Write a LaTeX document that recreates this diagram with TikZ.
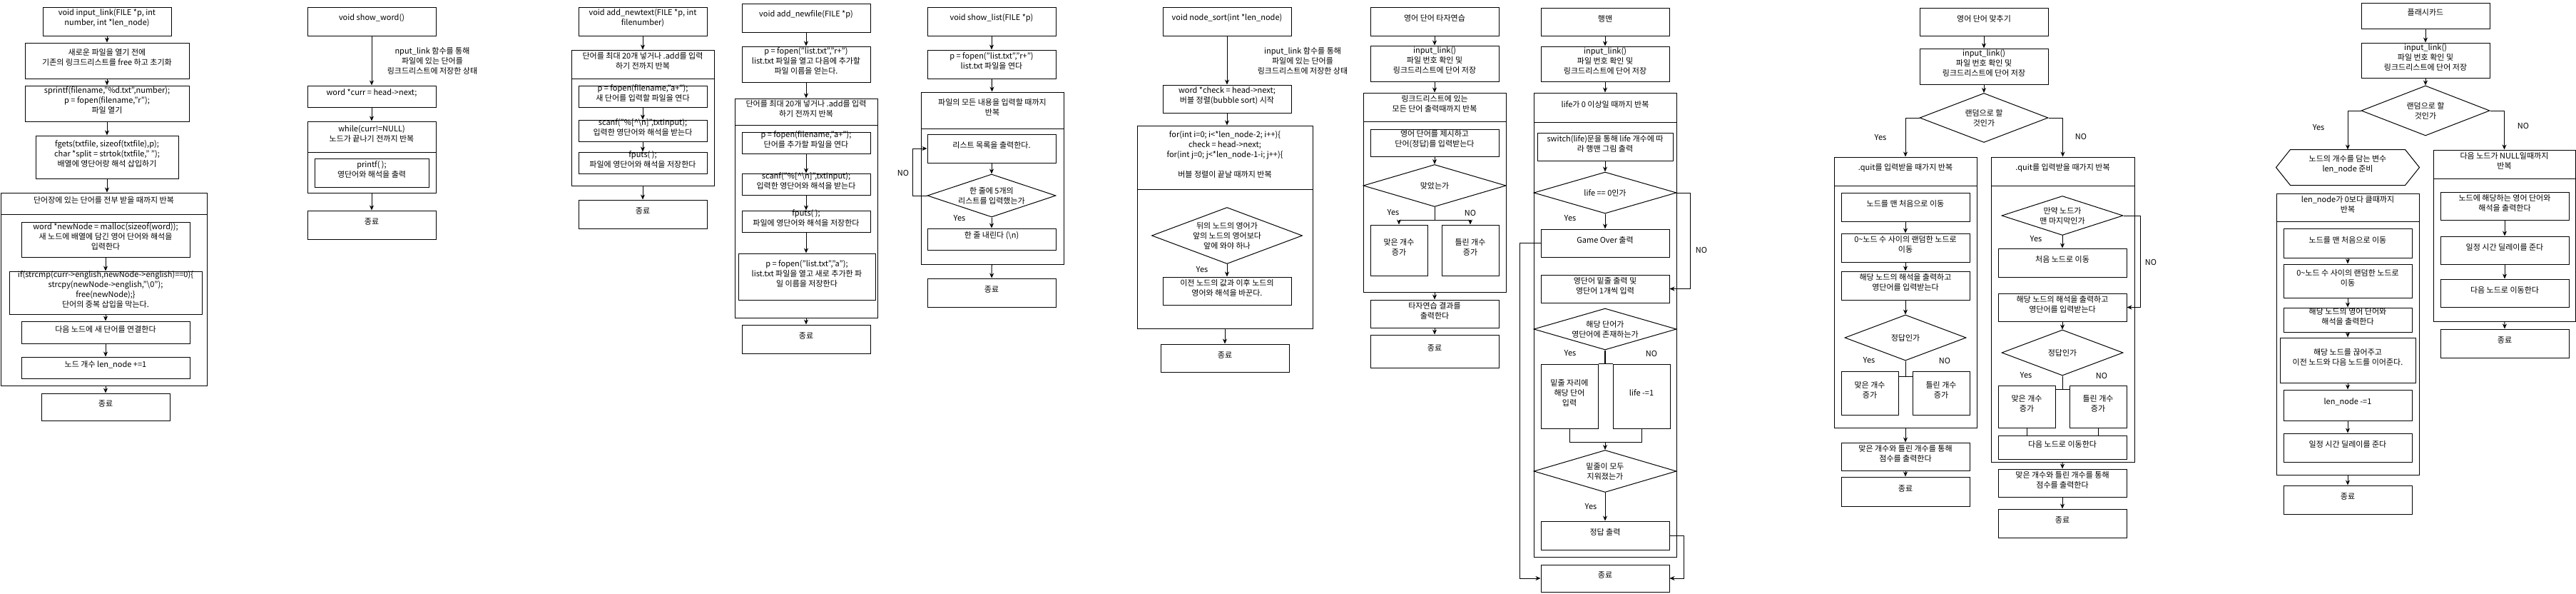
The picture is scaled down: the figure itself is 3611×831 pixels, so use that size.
\documentclass[tikz,border=0pt]{standalone}
\usepackage{fontspec}
\setmainfont{Noto Sans CJK KR}
\usetikzlibrary{arrows.meta,calc,fit,shapes.geometric}

\begin{document}
\begin{tikzpicture}[
    x=1pt, y=-1pt,
    >={Stealth[length=7pt,width=6pt]},
    line width=1pt,
    font=\fontsize{11}{14}\selectfont,
    box/.style={draw, rectangle, inner sep=0pt, align=center},
    dia/.style={draw, diamond, inner sep=0pt},
    txt/.style={inner sep=1pt, align=center}
]

% Canvas
\path[use as bounding box, fill=white] (0,0) rectangle (3611,831);

% input_link
\node[box, fit={(60,10)(240,50)}] (il1) {void input\_link(FILE *p, int\\number, int *len\_node)};
\node[box, fit={(35,60)(265,110)}] (il2) {새로운 파일을 열기 전에\\기존의 링크드리스트를 free 하고 초기화};
\node[box, fit={(35,120)(265,170)}] (il3) {sprintf(filename,"\%d.txt",number);\\p = fopen(filename,"r");\\파일 열기};
\node[box, fit={(50,190)(250,250)}] (il4) {fgets(txtfile, sizeof(txtfile),p);\\char *split = strtok(txtfile," ");\\배열에 영단어랑 해석 삽입하기};
\node[box, fit={(1,270)(290,540)}] (ilL) {};
\node[box, fit={(1,270)(290,300)}] (ilH) {단어장에 있는 단어를 전부 받을 때까지 반복};
\node[box, fit={(30,311)(266,360)}] (ila) {word *newNode = malloc(sizeof(word));\\새 노드에 배열에 담긴 영어 단어와 해석을\\입력한다};
\node[box, fit={(13,380)(283,440)}] (ilb) {if(strcmp(curr->english,newNode->english)==0)\{\\strcpy(newNode->english,"\textbackslash 0");\\free(newNode);\}\\단어의 중복 삽입을 막는다.};
\node[box, fit={(30,450)(266,481)}] (ilc) {다음 노드에 새 단어를 연결한다};
\node[box, fit={(30,500)(266,530)}] (ild) {노드 개수 len\_node +=1};
\node[box, fit={(58,551)(238,589)}] (ilE) {종료};

\draw[->] (il1) -- (il2);
\draw[->] (il2) -- (il3);
\draw[->] (il3) -- (il4);
\draw[->] (il4.south) -- (il4.south |- ilL.north);
\draw[->] (ila.south) -- (ila.south |- ilb.north);
\draw[->] (ilb.south) -- (ilb.south |- ilc.north);
\draw[->] (ilc) -- (ild);
\draw[->] (ilE.north |- ilL.south) -- (ilE);

% show_word
\node[box, fit={(431,10)(611,50)}] (sw1) {void show\_word()};
\node[box, fit={(431,120)(611,150)}] (sw2) {word *curr = head->next;};
\node[txt] (swn) at (606,85) {nput\_link 함수를 통해\\파일에 있는 단어를\\링크드리스트에 저장한 상태};
\node[box, fit={(431,170)(611,270)}] (swL) {};
\node[box, fit={(431,170)(611,213)}] (swH) {while(curr!=NULL)\\노드가 끝나기 전까지 반복};
\node[box, fit={(441,222)(601,262)}] (swa) {printf( );\\영단어와 해석을 출력};
\node[box, fit={(431,295)(611,335)}] (swE) {종료};

\draw[->] (sw1) -- (sw2);
\draw[->] (sw2) -- (swH);
\draw[->] (swL) -- (swE);

% add_newtext
\node[box, fit={(811,10)(991,50)}] (nt1) {void add\_newtext(FILE *p, int\\filenumber)};
\node[box, fit={(801,70)(1001,260)}] (ntL) {};
\node[box, fit={(801,70)(1001,110)}] (ntH) {단어를 최대 20개 넣거나 .add를 입력\\하기 전까지 반복};
\node[box, fit={(811,120)(991,150)}] (nta) {p = fopen(filename,"a+");\\새 단어를 입력할 파일을 연다};
\node[box, fit={(811,168)(991,198)}] (ntb) {scanf("\%[\textasciicircum\textbackslash n]",txtinput);\\입력한 영단어와 해석을 받는다};
\node[box, fit={(811,213)(991,243)}] (ntc) {fputs( );\\파일에 영단어와 해석을 저장한다};
\node[box, fit={(811,280)(991,320)}] (ntE) {종료};

\draw[->] (nt1) -- (ntH);
\draw[->] (nta) -- (ntb);
\draw[->] (ntb) -- (ntc);
\draw[->] (ntL) -- (ntE);

% add_newfile
\node[box, fit={(1040,5)(1220,45)}] (nf1) {void add\_newfile(FILE *p)};
\node[box, fit={(1040,65)(1220,115)}] (nf2) {p = fopen("list.txt","r+")\\list.txt 파일을 열고 다음에 추가할\\파일 이름을 얻는다.};
\node[box, fit={(1030,138)(1230,445)}] (nfL) {};
\node[box, fit={(1030,138)(1230,175)}] (nfH) {단어를 최대 20개 넣거나 .add를 입력\\하기 전까지 반복};
\node[box, fit={(1040,185)(1220,215)}] (nfa) {p = fopen(filename,"a+");\\단어를 추가할 파일을 연다};
\node[box, fit={(1040,243)(1220,273)}] (nfb) {scanf("\%[\textasciicircum\textbackslash n]",txtinput);\\입력한 영단어와 해석을 받는다};
\node[box, fit={(1040,295)(1220,325)}] (nfc) {fputs( );\\파일에 영단어와 해석을 저장한다};
\node[box, fit={(1035,355)(1227,420)}] (nfd) {p = fopen("list.txt","a");\\list.txt 파일을 열고 새로 추가한 파\\일 이름을 저장한다};
\node[box, fit={(1040,455)(1220,495)}] (nfE) {종료};

\draw[->] (nf1) -- (nf2);
\draw[->] (nf2) -- (nfH);
\draw[->] (nfa) -- (nfb);
\draw[->] (nfb) -- (nfc);
\draw[->] (nfc.south) -- (nfc.south |- nfd.north);
\draw[->] (nfL) -- (nfE);

% show_list
\node[box, fit={(1300,10)(1480,50)}] (sl1) {void show\_list(FILE *p)};
\node[box, fit={(1300,70)(1480,110)}] (sl2) {p = fopen("list.txt","r+")\\list.txt 파일을 연다};
\node[box, fit={(1291,129)(1491,370)}] (slL) {};
\node[box, fit={(1291,129)(1491,180)}] (slH) {파일의 모든 내용을 입력할 때까지\\반복};
\node[box, fit={(1300,188)(1480,228)}] (sla) {리스트 목록을 출력한다.};
\node[dia, minimum width=180, minimum height=60] (sld) at (1390,274) {};
\node[txt] (sldt) at (sld) {한 줄에 5개의\\리스트를 입력했는가};
\node[box, fit={(1300,320)(1480,350)}] (slb) {한 줄 내린다 (\textbackslash n)};
\node[box, fit={(1300,390)(1480,430)}] (slE) {종료};
\node[txt] (sly) at (1345,306) {Yes};
\node[txt] (sln) at (1266,242) {NO};

\draw[->] (sl1) -- (sl2);
\draw[->] (sl2) -- (slH);
\draw[->] (sla) -- (sld);
\draw[->] (sld) -- (slb);
\draw[->] (sld.west) -- ++(-20,0) |- (sla);
\draw[->] (slL) -- (slE);

% node_sort
\node[box, fit={(1630,10)(1810,50)}] (ns1) {void node\_sort(int *len\_node)};
\node[txt] (nsn) at (1826,85) {input\_link 함수를 통해\\파일에 있는 단어를\\링크드리스트에 저장한 상태};
\node[box, fit={(1630,119)(1810,158)}] (ns2) {word *check = head->next;\\버블 정렬(bubble sort) 시작};
\node[box, fit={(1594,176)(1840,460)}] (nsL) {};
\node[box, fit={(1594,176)(1840,265)}] (nsH) {for(int i=0; i<*len\_node-2; i++)\{\\check = head->next;\\for(int j=0; j<*len\_node-1-i; j++)\{\\[14pt]버블 정렬이 끝날 때까지 반복};
\node[dia, minimum width=211, minimum height=79] (nsd) at (1720,330) {};
\node[txt] (nsdt) at (nsd) {뒤의 노드의 영어가\\앞의 노드의 영어보다\\앞에 와야 하나};
\node[box, fit={(1630,388)(1810,427)}] (nsb) {이전 노드의 값과 이후 노드의\\영어와 해석을 바꾼다.};
\node[box, fit={(1627,482)(1807,521)}] (nsE) {종료};
\node[txt] (nsy) at (1685,378) {Yes};

\draw[->] (ns1) -- (ns2);
\draw[->] (ns2.south) -- (ns2.south |- nsH.north);
\draw[->] (nsd) -- (nsb);
\draw[->] (nsE.north |- nsL.south) -- (nsE);

% typing practice
\node[box, fit={(1921,10)(2101,50)}] (tp1) {영어 단어 타자연습};
\node[box, fit={(1921,64)(2101,114)}] (tp2) {input\_link()\\파일 번호 확인 및\\링크드리스트에 단어 저장};
\node[box, fit={(1911,130)(2111,409)}] (tpL) {};
\node[box, fit={(1911,130)(2111,170)}] (tpH) {링크드리스트에 있는\\모든 단어 출력때까지 반복};
\node[box, fit={(1921,181)(2101,219)}] (tpa) {영어 단어를 제시하고\\단어(정답)를 입력받는다};
\node[dia, minimum width=200, minimum height=59] (tpd) at (2011,260) {};
\node[txt] (tpdt) at (tpd) {맞았는가};
\node[box, fit={(1921,315)(2001,386)}] (tpy) {맞은 개수\\증가};
\node[box, fit={(2021,315)(2101,386)}] (tpn) {틀린 개수\\증가};
\node[box, fit={(1921,420)(2101,459)}] (tpb) {타자연습 결과를\\출력한다};
\node[box, fit={(1921,469)(2101,515)}] (tpE) {종료};
\node[txt] (tpyl) at (1953,298) {Yes};
\node[txt] (tpnl) at (2061,298) {NO};
\coordinate (tpk) at (2011,308);

\draw[->] (tp1) -- (tp2);
\draw[->] (tp2) -- (tpH);
\draw[->] (tpa) -- (tpd);
\draw (tpd.south) -- (tpk);
\draw[->] (tpk) -| (tpy.north);
\draw[->] (tpk) -| (tpn.north);
\draw[->] (tpL) -- (tpb);
\draw[->] (tpb) -- (tpE);

% hangman
\node[box, fit={(2160,11)(2340,50)}] (hm1) {행맨};
\node[box, fit={(2160,65)(2340,114)}] (hm2) {input\_link()\\파일 번호 확인 및\\링크드리스트에 단어 저장};
\node[box, fit={(2150,130)(2350,780)}] (hmL) {};
\node[box, fit={(2150,130)(2350,171)}] (hmH) {life가 0 이상일 때까지 반복};
\node[box, fit={(2155,186)(2345,225)}] (hma) {switch(life)문을 통해 life 개수에 따\\라 행맨 그림 출력};
\node[dia, minimum width=200, minimum height=58] (hmd1) at (2250,270) {};
\node[txt] (hmd1t) at (hmd1) {life == 0인가};
\node[box, fit={(2160,321)(2340,360)}] (hmg) {Game Over 출력};
\node[box, fit={(2160,385)(2340,424)}] (hmb) {영단어 밑줄 출력 및\\영단어 1개씩 입력};
\node[dia, minimum width=200, minimum height=58] (hmd2) at (2250,461) {};
\node[txt] (hmd2t) at (hmd2) {해당 단어가\\영단어에 존재하는가};
\node[box, fit={(2160,510)(2240,600)}] (hmy) {밑줄 자리에\\해당 단어\\입력};
\node[box, fit={(2261,510)(2341,600)}] (hmn) {life -=1};
\node[dia, minimum width=200, minimum height=59] (hmd3) at (2250,660) {};
\node[txt] (hmd3t) at (hmd3) {밑줄이 모두\\지워졌는가};
\node[box, fit={(2160,730)(2340,770)}] (hmc) {정답 출력};
\node[box, fit={(2160,791)(2340,829)}] (hmE) {종료};
\node[txt] (hmy1) at (2201,306) {Yes};
\node[txt] (hmn1) at (2385,350) {NO};
\node[txt] (hmy2) at (2201,495) {Yes};
\node[txt] (hmn2) at (2315,495) {NO};
\node[txt] (hmy3) at (2230,710) {Yes};
\coordinate (hmk) at (2250,619);

\draw[->] (hm1) -- (hm2);
\draw[->] (hm2) -- (hmH);
\draw[->] (hma) -- (hmd1);
\draw[->] (hmd1) -- (hmg);
\draw[->] (hmd1.east) -- ++(19,0) |- (hmb);
\draw[->] (hmg.west) -- ++(-29,0) |- (hmE);
\draw[line width=2pt] (hmd2.south) -- (hmd2.south |- hmy.north);
\draw (hmy.north east) -- (hmn.north west);
\draw (hmy.south) |- (hmk) -| (hmn.south);
\draw[->] (hmk) -- (hmd3);
\draw[->] (hmd3) -- (hmc);
\draw[->] (hmc.east) -- ++(20,0) |- (hmE);

% word quiz
\node[box, fit={(2691,11)(2871,50)}] (mc1) {영어 단어 맞추기};
\node[box, fit={(2691,68)(2871,118)}] (mc2) {input\_link()\\파일 번호 확인 및\\링크드리스트에 단어 저장};
\node[dia, minimum width=180, minimum height=69] (mcd) at (2781,165) {};
\node[txt] (mcdt) at (mcd) {랜덤으로 할\\것인가};
\node[txt] (mcyl) at (2636,193) {Yes};
\node[txt] (mcnl) at (2917,191) {NO};

\draw[->] (mc1) -- (mc2);
\draw[->] (mc2) -- (mcd);

% word quiz, random order
\node[box, fit={(2571,220)(2771,599)}] (mrL) {};
\node[box, fit={(2571,220)(2771,260)}] (mrH) {.quit를 입력받을 때가지 반복};
\node[box, fit={(2581,270)(2761,310)}] (mra) {노드를 맨 처음으로 이동};
\node[box, fit={(2581,327)(2761,367)}] (mrb) {0\textasciitilde 노드 수 사이의 랜덤한 노드로\\이동};
\node[box, fit={(2581,380)(2761,420)}] (mrc) {해당 노드의 해석을 출력하고\\영단어를 입력받는다};
\node[dia, minimum width=170, minimum height=64] (mrd) at (2671,473) {};
\node[txt] (mrdt) at (mrd) {정답인가};
\node[box, fit={(2581,520)(2661,581)}] (mry) {맞은 개수\\증가};
\node[box, fit={(2681,520)(2761,581)}] (mrn) {틀린 개수\\증가};
\node[box, fit={(2581,620)(2761,659)}] (mrs) {맞은 개수와 틀린 개수를 통해\\점수를 출력한다};
\node[box, fit={(2581,668)(2761,709)}] (mrE) {종료};
\node[txt] (mryl) at (2620,505) {Yes};
\node[txt] (mrnl) at (2726,505) {NO};
\coordinate (mrk) at (2671,527);

\draw[->] (mcd.west) -| (mrH.north);
\draw[->] (mra) -- (mrb);
\draw[->] (mrb) -- (mrc);
\draw[->] (mrc) -- (mrd);
\draw (mrd.south) -- (mrk);
\draw (mry.east |- mrk) -- (mrn.west |- mrk);
\draw[->] (mrL) -- (mrs);
\draw[->] (mrs) -- (mrE);

% word quiz, list order
\node[box, fit={(2791,220)(2992,647)}] (moL) {};
\node[box, fit={(2791,220)(2992,260)}] (moH) {.quit를 입력받을 때가지 반복};
\node[dia, minimum width=170, minimum height=55] (mod1) at (2891,302) {};
\node[txt] (mod1t) at (mod1) {만약 노드가\\맨 마지막인가};
\node[box, fit={(2801,348)(2981,388)}] (moa) {처음 노드로 이동};
\node[box, fit={(2801,411)(2981,450)}] (mob) {해당 노드의 해석을 출력하고\\영단어를 입력받는다};
\node[dia, minimum width=170, minimum height=64] (mod2) at (2891,494) {};
\node[txt] (mod2t) at (mod2) {정답인가};
\node[box, fit={(2801,540)(2881,599)}] (moy) {맞은 개수\\증가};
\node[box, fit={(2901,540)(2981,599)}] (mon) {틀린 개수\\증가};
\node[box, fit={(2801,610)(2981,643)}] (mox) {다음 노드로 이동한다};
\node[box, fit={(2801,657)(2981,696)}] (mos) {맞은 개수와 틀린 개수를 통해\\점수를 출력한다};
\node[box, fit={(2801,713)(2981,753)}] (moE) {종료};
\node[txt] (moy1) at (2854,335) {Yes};
\node[txt] (mon1) at (3015,367) {NO};
\node[txt] (moy2) at (2840,526) {Yes};
\node[txt] (mon2) at (2946,526) {NO};
\coordinate (mok) at (2891,545);

\draw[->] (mcd.east) -| (moH.north);
\draw[->] (mod1) -- (moa);
\draw[->] (mod1.east) -- ++(24,0) |- (mob);
\draw[->] (mob) -- (mod2);
\draw (mod2.south) -- (mok);
\draw (moy.east |- mok) -- (mon.west |- mok);
\draw (moy.south) -- (moy.south |- mox.north);
\draw (mon.south) -- (mon.south |- mox.north);
\draw[->] (moL) -- (mos);
\draw[->] (mos) -- (moE);

% flash cards
\node[box, fit={(3310,4)(3490,40)}] (fc1) {플래시카드};
\node[box, fit={(3310,60)(3490,109)}] (fc2) {input\_link()\\파일 번호 확인 및\\링크드리스트에 단어 저장};
\node[dia, minimum width=180, minimum height=70] (fcd) at (3400,155) {};
\node[txt] (fcdt) at (fcd) {랜덤으로 할\\것인가};
\node[txt] (fcyl) at (3250,179) {Yes};
\node[txt] (fcnl) at (3537,176) {NO};

\draw[->] (fc1) -- (fc2);
\draw[->] (fc2) -- (fcd);

% flash cards, random order
\node[txt, inner sep=0pt, fit={(3191,210)(3391,259)}] (frx) {노드의 개수를 담는 변수\\len\_node 준비};
\draw (frx.west) -- ($(frx.north west)+(20,0)$) -- ($(frx.north east)+(-20,0)$)
    -- (frx.east) -- ($(frx.south east)+(-20,0)$) -- ($(frx.south west)+(20,0)$) -- cycle;
\node[box, fit={(3191,271)(3391,665)}] (frL) {};
\node[box, fit={(3191,271)(3391,310)}] (frH) {len\_node가 0보다 클때까지\\반복};
\node[box, fit={(3201,320)(3381,361)}] (fra) {노드를 맨 처음으로 이동};
\node[box, fit={(3201,370)(3381,417)}] (frb) {0\textasciitilde 노드 수 사이의 랜덤한 노드로\\이동};
\node[box, fit={(3201,431)(3381,465)}] (frc) {해당 노드의  영어 단어와\\해석을 출력한다};
\node[box, fit={(3196,473)(3386,536)}] (frd) {해당 노드를 끊어주고\\이전 노드와 다음 노드를 이어준다.};
\node[box, fit={(3201,546)(3381,589)}] (fre) {len\_node -=1};
\node[box, fit={(3201,607)(3381,647)}] (frf) {일정 시간 딜레이를 준다};
\node[box, fit={(3201,680)(3381,720)}] (frE) {종료};

\draw[->] (fcd.west) -| (frx.north);
\draw[->] (fra) -- (frb);
\draw[->] (frb) -- (frc);
\draw[->] (frc) -- (frd);
\draw[->] (frd) -- (fre);
\draw[->] (fre) -- (frf);
\draw[->] (frL) -- (frE);

% flash cards, list order
\node[box, fit={(3411,210)(3610,450)}] (fnL) {};
\node[box, fit={(3411,210)(3610,250)}] (fnH) {다음 노드가 NULL일때까지\\반복};
\node[box, fit={(3421,269)(3601,308)}] (fna) {노드에 해당하는 영어 단어와\\해석을 출력한다};
\node[box, fit={(3421,331)(3601,370)}] (fnb) {일정 시간 딜레이를 준다};
\node[box, fit={(3421,391)(3601,430)}] (fnc) {다음 노드로 이동한다};
\node[box, fit={(3421,461)(3601,501)}] (fnE) {종료};

\draw[->] (fcd.east) -| (fnH.north);
\draw[->] (fna) -- (fnb);
\draw[->] (fnb) -- (fnc);
\draw[->] (fnL) -- (fnE);

\end{tikzpicture}
\end{document}
